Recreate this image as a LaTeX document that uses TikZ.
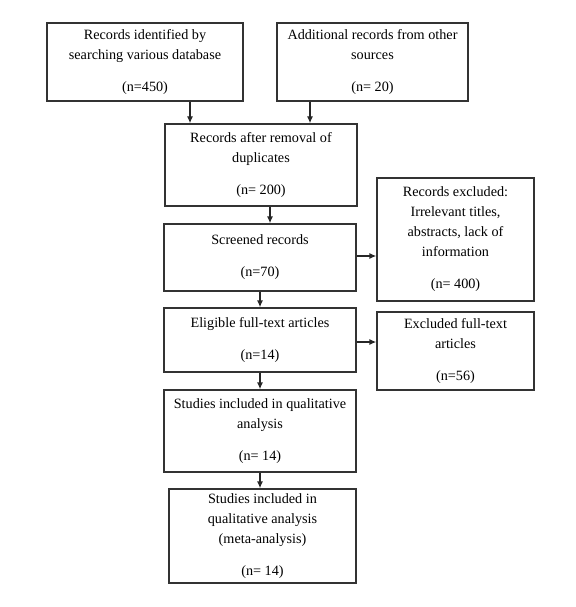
\documentclass[tikz,border=0pt]{standalone}
\usepackage{fontspec}
\setmainfont{Liberation Serif}
\usetikzlibrary{arrows.meta}
\tikzset{
  box/.style={draw=black!80, line width=1.3pt, fill=white, inner sep=0pt, align=center,
    font=\fontsize{14.2}{20}\selectfont},
  arr/.style={draw=black!85, line width=1.3pt, -{Latex[length=7pt,width=6pt]}}
}
\begin{document}
\begin{tikzpicture}[x=1pt,y=-1pt]
\useasboundingbox (0,0) rectangle (575,607);
\node[box, minimum width=196pt, minimum height=78pt] (A) at (145,62)
  {Records identified by\\searching various database\\[12pt](n=450)};
\node[box, minimum width=191pt, minimum height=78pt] (B) at (372.5,62)
  {Additional records from other\\sources\\[12pt](n= 20)};
\node[box, minimum width=192pt, minimum height=82pt] (C) at (261,165)
  {Records after removal of\\duplicates\\[12pt](n= 200)};
\node[box, minimum width=157pt, minimum height=123pt] (D) at (455.5,239.5)
  {Records excluded:\\Irrelevant titles,\\abstracts, lack of\\information\\[12pt](n= 400)};
\node[box, minimum width=192pt, minimum height=67pt] (S) at (260,257.5)
  {Screened records\\[12pt](n=70)};
\node[box, minimum width=192pt, minimum height=64pt] (E) at (260,340)
  {Eligible full-text articles\\[12pt](n=14)};
\node[box, minimum width=157pt, minimum height=78pt] (F) at (455.5,351)
  {Excluded full-text\\articles\\[12pt](n=56)};
\node[box, minimum width=192pt, minimum height=82pt] (Q1) at (260,431)
  {Studies included in qualitative\\analysis\\[12pt](n= 14)};
\node[box, minimum width=187pt, minimum height=94pt] (Q2) at (262.5,536)
  {Studies included in\\qualitative analysis\\(meta-analysis)\\[12pt](n= 14)};
\draw[arr] (A.south -| 190,0) -- (C.north -| 190,0);
\draw[arr] (B.south -| 310,0) -- (C.north -| 310,0);
\draw[arr] (C.south -| 270,0) -- (S.north -| 270,0);
\draw[arr] (S.south -| 260,0) -- (E.north -| 260,0);
\draw[arr] (E.south -| 260,0) -- (Q1.north -| 260,0);
\draw[arr] (Q1.south -| 260,0) -- (Q2.north -| 260,0);
\draw[arr] (S.east |- 0,256) -- (D.west |- 0,256);
\draw[arr] (E.east |- 0,342) -- (F.west |- 0,342);
\end{tikzpicture}
\end{document}
